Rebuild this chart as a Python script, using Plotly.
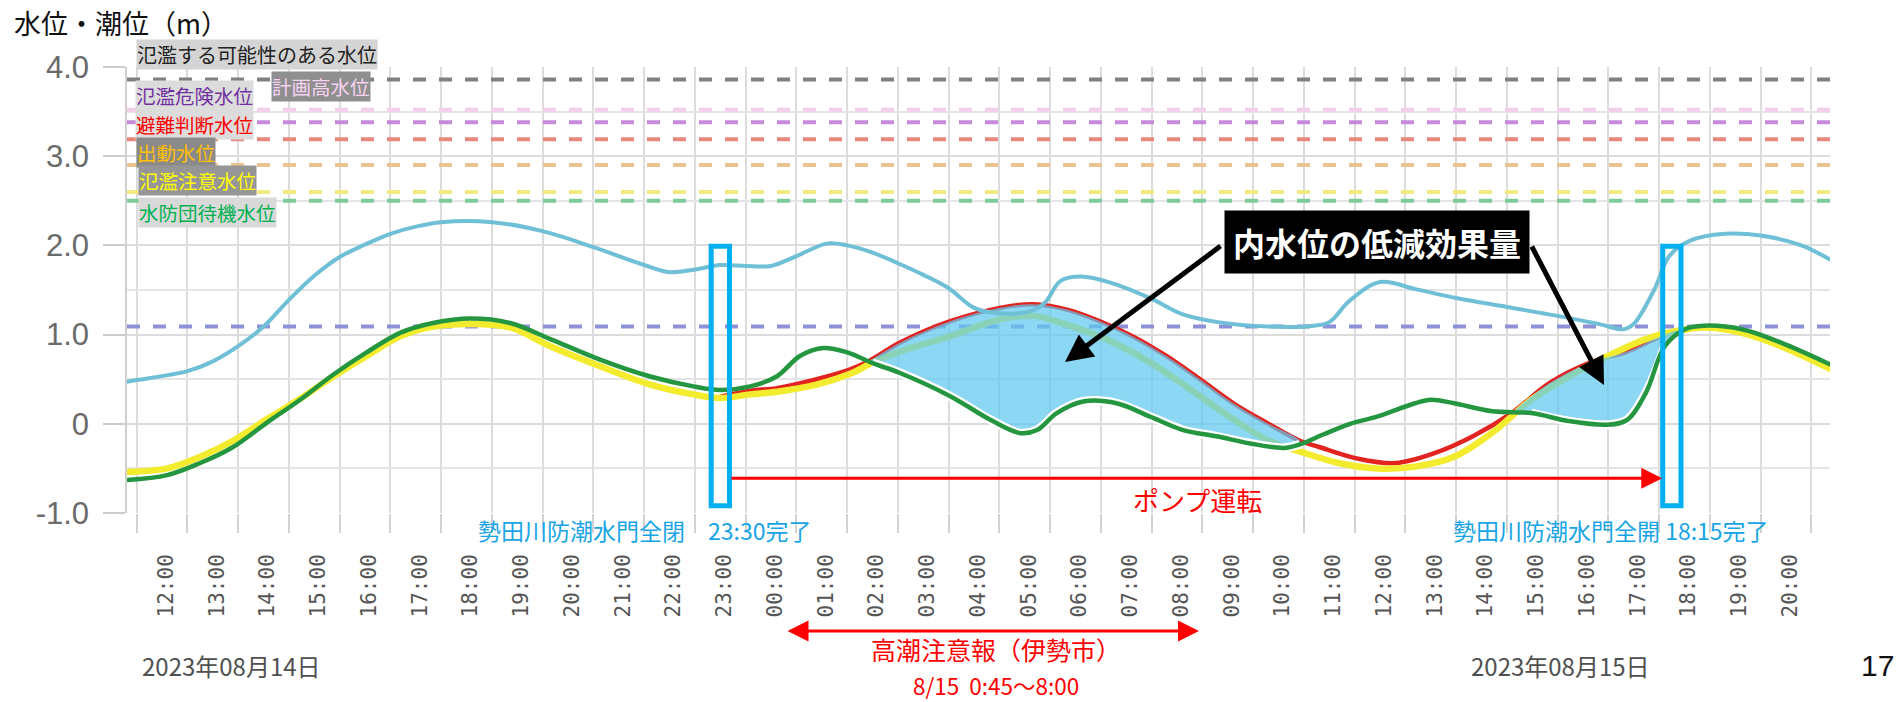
import pandas as pd
import plotly.graph_objects as go

BASE = pd.Timestamp("2023-08-14 00:00")

# times are hours counted from 2023-08-14 00:00
tide_t = [11.8, 12.0, 13.0, 13.5, 14.0, 14.5, 15.0, 15.5, 16.0, 16.5,
          17.0, 17.5, 18.0, 19.0, 20.0, 21.0, 22.0, 22.5, 23.0, 23.5,
          24.0, 24.5, 25.0, 25.6, 26.0, 26.5, 27.0, 27.5, 28.0, 28.5,
          29.0, 29.6, 29.9, 30.2, 30.6, 31.2, 32.0, 32.6, 33.3, 34.3,
          35.2, 35.5, 35.9, 36.5, 37.2, 38.0, 39.0, 40.0, 40.8, 41.3,
          41.5, 41.9, 42.2, 42.6, 43.3, 44.0, 44.8, 45.4]
tide_v = [0.47, 0.49, 0.59, 0.70, 0.87, 1.09, 1.39, 1.66, 1.87, 2.01,
          2.13, 2.21, 2.26, 2.26, 2.16, 1.98, 1.78, 1.70, 1.73, 1.78,
          1.77, 1.77, 1.88, 2.02, 2.00, 1.92, 1.80, 1.67, 1.52, 1.30,
          1.24, 1.26, 1.36, 1.60, 1.65, 1.58, 1.40, 1.23, 1.14, 1.09,
          1.10, 1.14, 1.38, 1.59, 1.51, 1.41, 1.31, 1.21, 1.12, 1.06,
          1.12, 1.50, 1.88, 2.05, 2.13, 2.11, 2.00, 1.83]

# inner water level (actual, with pumps)
inner_t = [11.8, 12.6, 13.25, 13.9, 14.56, 15.22, 15.87, 16.53, 17.19, 17.84,
           18.57, 19.36, 20.15, 21.13, 22.12, 22.97, 23.49, 24.09, 24.61, 25.07,
           25.53, 26.0, 26.5, 27.04, 28.03, 28.82, 29.41, 29.74, 30.13, 30.65,
           31.31, 31.97, 32.62, 33.28, 33.94, 34.6, 34.92, 35.38, 35.91, 36.44,
           37.19, 37.5, 37.96, 38.71, 39.48, 40.22, 40.99, 41.37, 41.74, 42.11,
           42.51, 42.88, 43.63, 44.4, 45.39]
inner_v = [-0.63, -0.575, -0.44, -0.26, 0.01, 0.27, 0.55, 0.80, 1.02, 1.13,
           1.18, 1.13, 0.95, 0.72, 0.53, 0.42, 0.38, 0.42, 0.53, 0.76,
           0.85, 0.80, 0.68, 0.57, 0.31, 0.045, -0.105, -0.07, 0.12, 0.25,
           0.23, 0.08, -0.07, -0.14, -0.22, -0.27, -0.23, -0.12, 0.0, 0.08,
           0.23, 0.27, 0.23, 0.14, 0.12, 0.03, -0.01, 0.045, 0.35, 0.87,
           1.06, 1.10, 1.06, 0.91, 0.66]

# yellow series
yellow_t = [11.8, 12.6, 13.25, 13.9, 14.56, 15.22, 15.87, 16.53, 17.19, 17.84,
            18.57, 19.36, 20.15, 21.13, 22.12, 22.97, 23.49, 24.09, 24.61, 25.4,
            26.06, 26.45, 27.04, 28.03, 29.01, 29.67, 30.33, 30.98, 31.63, 32.29,
            32.95, 33.61, 34.27, 34.92, 35.68, 36.44, 37.19, 37.96, 38.71, 39.48,
            40.22, 40.99, 41.74, 42.35, 42.88, 43.63, 44.4, 45.39]
yellow_v = [-0.54, -0.50, -0.37, -0.19, 0.05, 0.28, 0.53, 0.76, 0.98, 1.09,
            1.12, 1.08, 0.87, 0.645, 0.44, 0.33, 0.29, 0.33, 0.36, 0.44,
            0.56, 0.67, 0.81, 0.98, 1.17, 1.21, 1.11, 0.98, 0.80, 0.57,
            0.31, 0.05, -0.18, -0.31, -0.44, -0.50, -0.48, -0.37, -0.10, 0.27,
            0.53, 0.76, 0.95, 1.04, 1.08, 1.02, 0.87, 0.61]

# red series (without pump operation)
red_t = [23.49, 24.09, 24.61, 25.4, 26.06, 26.45, 27.04, 28.03, 29.01, 29.67,
         30.33, 30.98, 31.63, 32.29, 32.95, 33.61, 34.27, 34.92, 35.3, 36.06,
         36.81, 37.57, 38.33, 39.09, 39.85, 40.61, 41.37, 41.97, 42.35]
red_v = [0.30, 0.37, 0.40, 0.50, 0.61, 0.71, 0.91, 1.15, 1.30, 1.34,
         1.28, 1.15, 0.98, 0.76, 0.50, 0.23, 0.01, -0.19, -0.26, -0.39,
         -0.44, -0.33, -0.14, 0.12, 0.46, 0.68, 0.81, 0.965, 1.04]

# reduction effect areas (hours)
effect_windows = [(26.45, 34.95), (39.0, 42.4)]

# warning levels
level_names = ["氾濫する可能性のある水位", "計画高水位", "氾濫危険水位", "避難判断水位",
               "出動水位", "氾濫注意水位", "水防団待機水位", ""]
level_values = [3.86, 3.52, 3.38, 3.19, 2.90, 2.60, 2.50, 1.09]
level_colors = ["#808080", "#f3cdea", "#c58ad9", "#e8877b", "#eac38e", "#f1ea80", "#7fca9c", "#8e90d8"]

# gate events (hours)
gate_close = 23.5
gate_open = 42.25

hour_labels = [f"{h % 24:02d}:00" for h in range(12, 45)]
hour_ticks = list(range(12, 45))


def at(h):
    return BASE + pd.to_timedelta(h, unit="h")


def ts(h):
    return at(h).strftime("%Y-%m-%d %H:%M:%S")


L, R, T, B = 127, 1830, 67, 513


def px(x):
    return (x - L) / (R - L)


def py(y):
    return (B - y) / (B - T)


x_lo, x_hi = at(11.809), at(45.366)
JP = "Noto Sans CJK JP"

fig = go.Figure()

for name, val, col in zip(level_names, level_values, level_colors):
    fig.add_trace(go.Scatter(x=[x_lo, x_hi], y=[val, val], mode="lines",
                             line=dict(color=col, width=4, dash="13px,13px"),
                             hoverinfo="skip", name=name))

fig.add_trace(go.Scatter(x=at(pd.Series(red_t)), y=red_v, mode="lines",
                         line=dict(color="#e3231f", width=4.5, shape="spline"), name="red"))
fig.add_trace(go.Scatter(x=at(pd.Series(yellow_t)), y=yellow_v, mode="lines",
                         line=dict(color="#f3ec2e", width=6.5, shape="spline"), name="yellow"))

for a, b in effect_windows:
    rt = [t for t in red_t if a <= t <= b]
    rv = [v for t, v in zip(red_t, red_v) if a <= t <= b]
    gt = [t for t in inner_t if a <= t <= b]
    gv = [v for t, v in zip(inner_t, inner_v) if a <= t <= b]
    fig.add_trace(go.Scatter(x=at(pd.Series(rt + gt[::-1])), y=rv + gv[::-1],
                             mode="lines", fill="toself",
                             fillcolor="rgba(95,200,238,0.72)",
                             line=dict(width=0, shape="spline"), hoverinfo="skip"))
    fig.add_trace(go.Scatter(x=at(pd.Series(gt)), y=gv, mode="lines",
                             line=dict(color="white", width=9, shape="spline"),
                             hoverinfo="skip"))

fig.add_trace(go.Scatter(x=at(pd.Series(inner_t)), y=inner_v, mode="lines",
                         line=dict(color="#23963f", width=4.5, shape="spline"), name="inner"))
fig.add_trace(go.Scatter(x=at(pd.Series(tide_t)), y=tide_v, mode="lines",
                         line=dict(color="#6fbfd6", width=4, shape="spline"), name="tide"))

# gate markers
for g in (gate_close, gate_open):
    fig.add_shape(type="rect", xref="x", yref="y", x0=at(g - 0.18), x1=at(g + 0.18),
                  y0=-0.92, y1=1.99, line=dict(color="#00b0f0", width=5))


def label(x, y, text, size, color, family=JP, **kw):
    return dict(x=px(x), y=py(y), xref="paper", yref="paper", xanchor="center",
                yanchor="middle", text=text, showarrow=False,
                font=dict(family=family, size=size, color=color), **kw)


ann = []
# level labels: left edge x, centre y
label_boxes = [
    (136, 54, "#222222", "#d4d4d4"),
    (271, 86.5, "#f7d2f3", "#8f8f8f"),
    (135, 96, "#7030a0", "#dcdcdc"),
    (135, 124, "#ff0000", "#dcdcdc"),
    (136, 152, "#ffc000", "#8a8a8a"),
    (138, 180, "#ffff00", "#969696"),
    (138, 212.5, "#00b050", "#d9d9d9"),
]
for name, (x, y, fc, bg) in zip(level_names, label_boxes):
    ann.append(dict(x=px(x), y=py(y), xref="paper", yref="paper", xanchor="left", yanchor="middle",
                    text=name, showarrow=False, bgcolor=bg, borderpad=0,
                    font=dict(family=JP, size=19.5 if y > 60 else 20, color=fc)))

ann += [
    dict(x=px(12), y=py(22), xref="paper", yref="paper", xanchor="left", yanchor="middle",
         text="水位・潮位（m）", showarrow=False, font=dict(family=JP, size=27, color="#111111")),
    label(231, 665, "2023年08月14日", 24, "#505050"),
    label(1560, 665, "2023年08月15日", 24, "#505050"),
    label(1877, 665, "17", 30, "#111111", family="Liberation Sans"),
    label(644, 530, "勢田川防潮水門全閉　23:30完了", 23, "#16a4e6"),
    label(1611, 530, "勢田川防潮水門全開 18:15完了", 23, "#16a4e6"),
    label(1197, 499, "ポンプ運転", 26, "#ff0000"),
    label(996, 649, "高潮注意報（伊勢市）", 25, "#ff0000"),
    label(996, 685, "8/15  0:45～8:00", 22.5, "#ff0000"),
    label(1377, 242, "<b>内水位の低減効果量</b>", 32, "#ffffff", bgcolor="#000000", borderpad=8),
    # pump operation arrow
    dict(x=ts(gate_open - 0.19), y=-0.61, xref="x", yref="y", axref="x", ayref="y",
         ax=ts(gate_close + 0.19), ay=-0.61, text="", showarrow=True,
         arrowhead=2, arrowsize=1.4, arrowwidth=3, arrowcolor="#ff0000"),
    # storm surge warning period
    dict(x=px(1199), y=py(631), xref="paper", yref="paper", ax=-(1199 - 786), ay=0,
         text="", showarrow=True, arrowside="end+start", arrowhead=2, startarrowhead=2,
         arrowsize=1.4, startarrowsize=1.4, arrowwidth=3, arrowcolor="#ff0000"),
    # arrows from the effect label
    dict(x=px(1065), y=py(362), xref="paper", yref="paper", ax=1222 - 1065, ay=245 - 362,
         text="", showarrow=True, arrowhead=2, arrowsize=1.1, arrowwidth=5, arrowcolor="#000000"),
    dict(x=px(1604), y=py(385), xref="paper", yref="paper", ax=1531 - 1604, ay=245 - 385,
         text="", showarrow=True, arrowhead=2, arrowsize=1.1, arrowwidth=5, arrowcolor="#000000"),
]

fig.update_layout(
    width=1903, height=702,
    margin=dict(l=L, r=1903 - R, t=T, b=702 - B),
    paper_bgcolor="white", plot_bgcolor="white",
    showlegend=False, annotations=ann,
    xaxis=dict(
        type="date", range=[x_lo, x_hi],
        tickmode="array", tickvals=[at(h + 0.58) for h in hour_ticks], ticktext=hour_labels,
        tickangle=-90, ticks="", showgrid=False, zeroline=False,
        ticklabelstandoff=36,
        tickfont=dict(family="DejaVu Sans Mono", size=21, color="#555555"),
        minor=dict(tickmode="linear", tick0=at(12), dtick=3600000, ticks="outside", ticklen=19,
                   tickcolor="#d2d2d2", tickwidth=1.5, showgrid=True, gridcolor="#dcdcdc", gridwidth=1.5),
    ),
    yaxis=dict(
        range=[-1.0, 4.0], tickmode="array", tickvals=[-1, 0, 1, 2, 3, 4],
        ticktext=["-1.0", "0", "1.0", "2.0", "3.0", "4.0"],
        ticks="outside", ticklen=22, tickcolor="#cccccc", tickwidth=1.5,
        ticklabelstandoff=8,
        showgrid=True, gridcolor="#dcdcdc", gridwidth=1.5, zeroline=False,
        showline=True, linecolor="#d0d0d0", linewidth=1.5,
        tickfont=dict(family="Liberation Sans", size=31, color="#6a6a6a"),
        minor=dict(dtick=0.5, showgrid=True, gridcolor="#e4e4e4", gridwidth=1.5, ticks=""),
    ),
)

fig.write_html("out.html", config={"displayModeBar": False},
               post_script=["document.body.style.margin='0px';"])
